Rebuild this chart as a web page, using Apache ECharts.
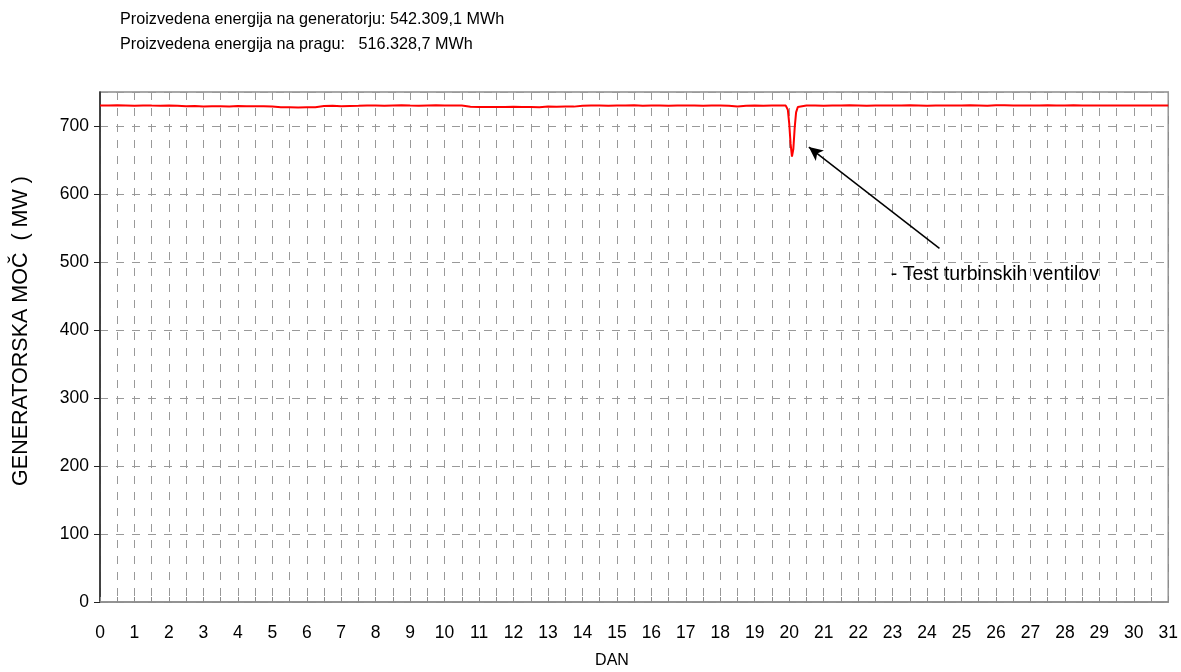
<!DOCTYPE html>
<html>
<head>
<meta charset="utf-8">
<script src="https://cdn.jsdelivr.net/npm/echarts@6/dist/echarts.min.js"></script>
<style>html,body{margin:0;padding:0;background:#fff}#c{width:1181px;height:672px}</style>
</head>
<body>
<div id="c"></div>
<script>
var titleLines = ['Proizvedena energija na generatorju: 542.309,1 MWh', 'Proizvedena energija na pragu:   516.328,7 MWh'];
var yAxisTitle = 'GENERATORSKA MOČ  ( MW )';
var xAxisTitle = 'DAN';
var annotationText = '- Test turbinskih ventilov';
var annotationArrow = [[24.36, 520], [20.57, 669]];
var annotationLabelAt = [22.95, 481];

var days = [
  0,0.25,0.5,0.75,1,1.25,1.5,1.75,2,2.25,
  2.5,2.75,3,3.25,3.5,3.75,4,4.25,4.5,4.75,
  5,5.25,5.5,5.75,6,6.25,
  6.5,6.75,7,7.25,7.5,
  7.75,8,8.25,8.5,8.75,9,9.25,9.5,9.75,10,10.25,10.5,
  10.75,11,11.25,11.5,11.75,12,12.25,12.5,12.75,
  13,13.25,13.5,13.75,
  14,14.25,14.5,14.75,15,15.25,15.5,15.75,16,16.25,16.5,16.75,
  17,17.25,17.5,17.75,18,18.25,18.5,18.75,19,19.25,19.5,19.75,
  19.9,19.96,20,20.04,20.08,20.12,20.16,20.2,20.25,20.3,
  20.5,20.75,21,21.25,21.5,21.75,22,22.25,22.5,22.75,
  23,23.25,23.5,23.75,24,24.25,24.5,24.75,25,25.25,
  25.5,25.75,26,26.25,26.5,26.75,27,27.25,27.5,27.75,
  28,28.25,28.5,28.75,29,29.25,29.5,29.75,30,30.25,
  30.5,30.75,31
];
var power = [
  730.2,730.0,730.4,730.1,729.8,730.3,730.0,729.9,730.2,729.6,
  729.0,729.3,728.8,729.2,729.0,728.7,729.3,729.1,728.9,729.2,
  728.5,727.4,727.6,727.3,727.5,727.6,
  729.3,729.6,729.2,729.5,729.7,
  730.1,730.3,729.8,730.2,730.4,730.0,729.9,730.3,730.5,730.1,730.2,730.0,
  728.2,727.9,728.1,727.8,728.0,728.2,727.9,728.0,727.7,
  728.5,728.4,728.6,728.5,
  729.8,730.1,730.3,729.9,730.2,730.0,730.4,729.7,730.1,730.3,729.9,730.2,
  730.0,730.1,729.8,730.2,730.0,729.7,728.8,729.6,730.1,729.9,730.2,730.0,
  730.0,724,704,674,655,666,698,720,728,730,
  730.1,730.3,729.9,730.2,730.0,730.4,730.1,729.8,730.2,730.0,
  730.3,730.1,730.5,730.2,729.9,730.1,730.3,730.0,730.2,730.4,
  730.1,729.8,730.6,730.4,730.1,730.2,730.0,730.3,730.5,730.2,
  730.1,730.4,730.0,730.3,730.2,730.1,730.0,730.2,730.3,730.1,
  730.2,730.0,730.2
];

var seriesData = days.map(function (d, i) { return [d, power[i]]; });
var FONT = "'Liberation Sans', Arial, sans-serif";

var chart = echarts.init(document.getElementById('c'));
chart.setOption({
  animation: false,
  backgroundColor: '#ffffff',
  textStyle: { fontFamily: FONT },
  grid: { left: 100, right: 11, top: 92, bottom: 70, show: true, borderColor: '#8c8c8c', borderWidth: 1.5, backgroundColor: 'transparent' },
  graphic: [
    { type: 'text', left: 120, top: 12, style: { text: titleLines[0], font: '16.2px ' + FONT, fill: '#000' } },
    { type: 'text', left: 120, top: 37, style: { text: titleLines[1], font: '16.2px ' + FONT, fill: '#000' } },
    { type: 'text', x: 21, y: 331, rotation: Math.PI / 2,
      style: { text: yAxisTitle, font: '21.5px ' + FONT, fill: '#000', align: 'center', verticalAlign: 'middle' } },
    { type: 'text', x: 612, y: 661,
      style: { text: xAxisTitle, font: '16px ' + FONT, fill: '#000', align: 'center', verticalAlign: 'middle' } }
  ],
  xAxis: {
    type: 'value', min: 0, max: 31, interval: 0.5,
    axisLine: { show: true, lineStyle: { color: '#8c8c8c', width: 1.5 } },
    axisTick: { show: true, inside: true, length: 5, lineStyle: { color: '#8c8c8c' } },
    axisLabel: { fontSize: 17.5, color: '#000', margin: 22, fontFamily: FONT,
      formatter: function (v) { return (Math.abs(v - Math.round(v)) < 1e-6) ? String(Math.round(v)) : ''; } },
    splitLine: { show: true, lineStyle: { color: '#999', type: [8, 8], width: 1 } }
  },
  yAxis: {
    type: 'value', min: 0, max: 750, interval: 100,
    axisLine: { show: true, lineStyle: { color: '#222', width: 1.5 } },
    axisTick: { show: true, length: 6, lineStyle: { color: '#222' } },
    axisLabel: { fontSize: 17.5, color: '#000', margin: 11, fontFamily: FONT, showMaxLabel: false,
      formatter: function (v) { return v > 700 ? '' : String(v); } },
    splitLine: { show: true, lineStyle: { color: '#999', type: [8, 8], width: 1 } }
  },
  series: [
    {
      type: 'line', data: seriesData, showSymbol: false, symbol: 'none',
      lineStyle: { color: '#ff0000', width: 2 }, z: 5
    },
    {
      type: 'line', data: [], silent: true,
      markLine: {
        silent: true, symbol: ['none', 'arrow'], symbolSize: [10, 14],
        lineStyle: { color: '#000', width: 1.5, type: 'solid' },
        label: { show: false },
        data: [[{ coord: annotationArrow[0] }, { coord: annotationArrow[1] }]]
      },
      markPoint: {
        silent: true, symbol: 'circle', symbolSize: 0,
        label: { show: true, position: 'right', distance: 0, formatter: annotationText, fontSize: 19.5, color: '#000', fontFamily: FONT },
        data: [{ coord: annotationLabelAt }]
      }
    }
  ]
});
</script>
</body>
</html>
